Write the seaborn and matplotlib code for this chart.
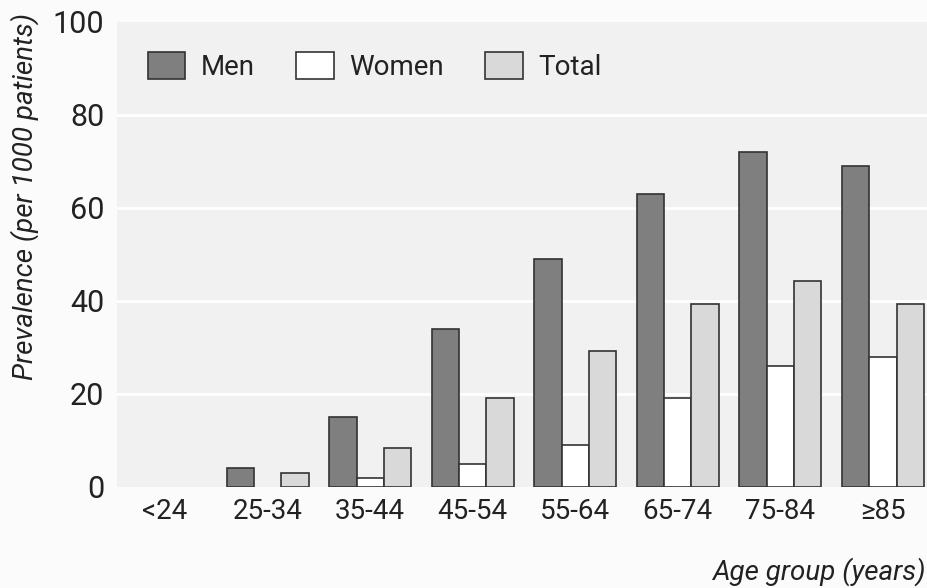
import matplotlib
matplotlib.use("Agg")
import matplotlib.pyplot as plt
import seaborn as sns
import pandas as pd
from matplotlib.patches import Patch

age_groups = ["<24", "25-34", "35-44", "45-54", "55-64", "65-74", "75-84", "\u226585"]
men = [0, 4, 15, 34, 49, 63, 72, 69]
women = [0, 0, 2, 5, 9, 19, 26, 28]
total = [0, 3, 8.4, 19, 29.2, 39.4, 44.3, 39.4]
series = ["Men", "Women", "Total"]
palette = {"Men": "#7f7f7f", "Women": "#ffffff", "Total": "#d9d9d9"}

df = pd.DataFrame({"age": age_groups * 3,
                   "value": men + women + total,
                   "sex": [s for s in series for _ in age_groups]})

sns.set_style("white")
plt.rcParams['font.family'] = ['Roboto', 'DejaVu Sans']

fig = plt.figure(figsize=(9.28, 5.88), dpi=100)
fig.patch.set_facecolor("#fbfbfb")
ax = fig.add_axes([0.126, 0.172, 0.874, 0.791])
ax.set_facecolor("#f1f1f1")

sns.barplot(data=df, x="age", y="value", hue="sex", palette=palette,
            edgecolor="#333333", linewidth=1.2, width=0.8, ax=ax, zorder=3,
            legend=False)

# empty groups: no outline for zero-height bars
for p in ax.patches:
    if p.get_height() == 0:
        p.set_visible(False)

ax.set_ylim(0, 100)
ax.set_xlim(-0.47, 7.44)
ax.set_yticks([0, 20, 40, 60, 80, 100])
ax.tick_params(axis="y", labelsize=22, length=0, pad=9, colors="#222222")
ax.tick_params(axis="x", labelsize=20, length=0, pad=8, colors="#222222")
for y in [20, 40, 60, 80]:
    ax.axhline(y, color="white", lw=2, zorder=1)
for s in ax.spines.values():
    s.set_visible(False)

ax.set_xlabel("")
ax.set_ylabel("")
fig.text(0.027, 0.665, "Prevalence (per 1000 patients)", rotation=90, fontsize=20,
         style="italic", ha="center", va="center", color="#222222")
fig.text(0.997, 0.028, "Age group (years)", fontsize=20, style="italic",
         ha="right", va="center", color="#222222")

handles = [Patch(facecolor=palette[s], edgecolor="#333333", linewidth=1.2, label=s)
           for s in series]
ax.legend(handles=handles, loc="upper left", bbox_to_anchor=(0.038, 0.935), ncol=3,
          frameon=False, fontsize=20, handlelength=1.35, handleheight=1.1,
          columnspacing=1.5, handletextpad=0.55, borderpad=0, borderaxespad=0,
          labelcolor="#222222")

fig.savefig("out.png", dpi=100, facecolor=fig.get_facecolor())
